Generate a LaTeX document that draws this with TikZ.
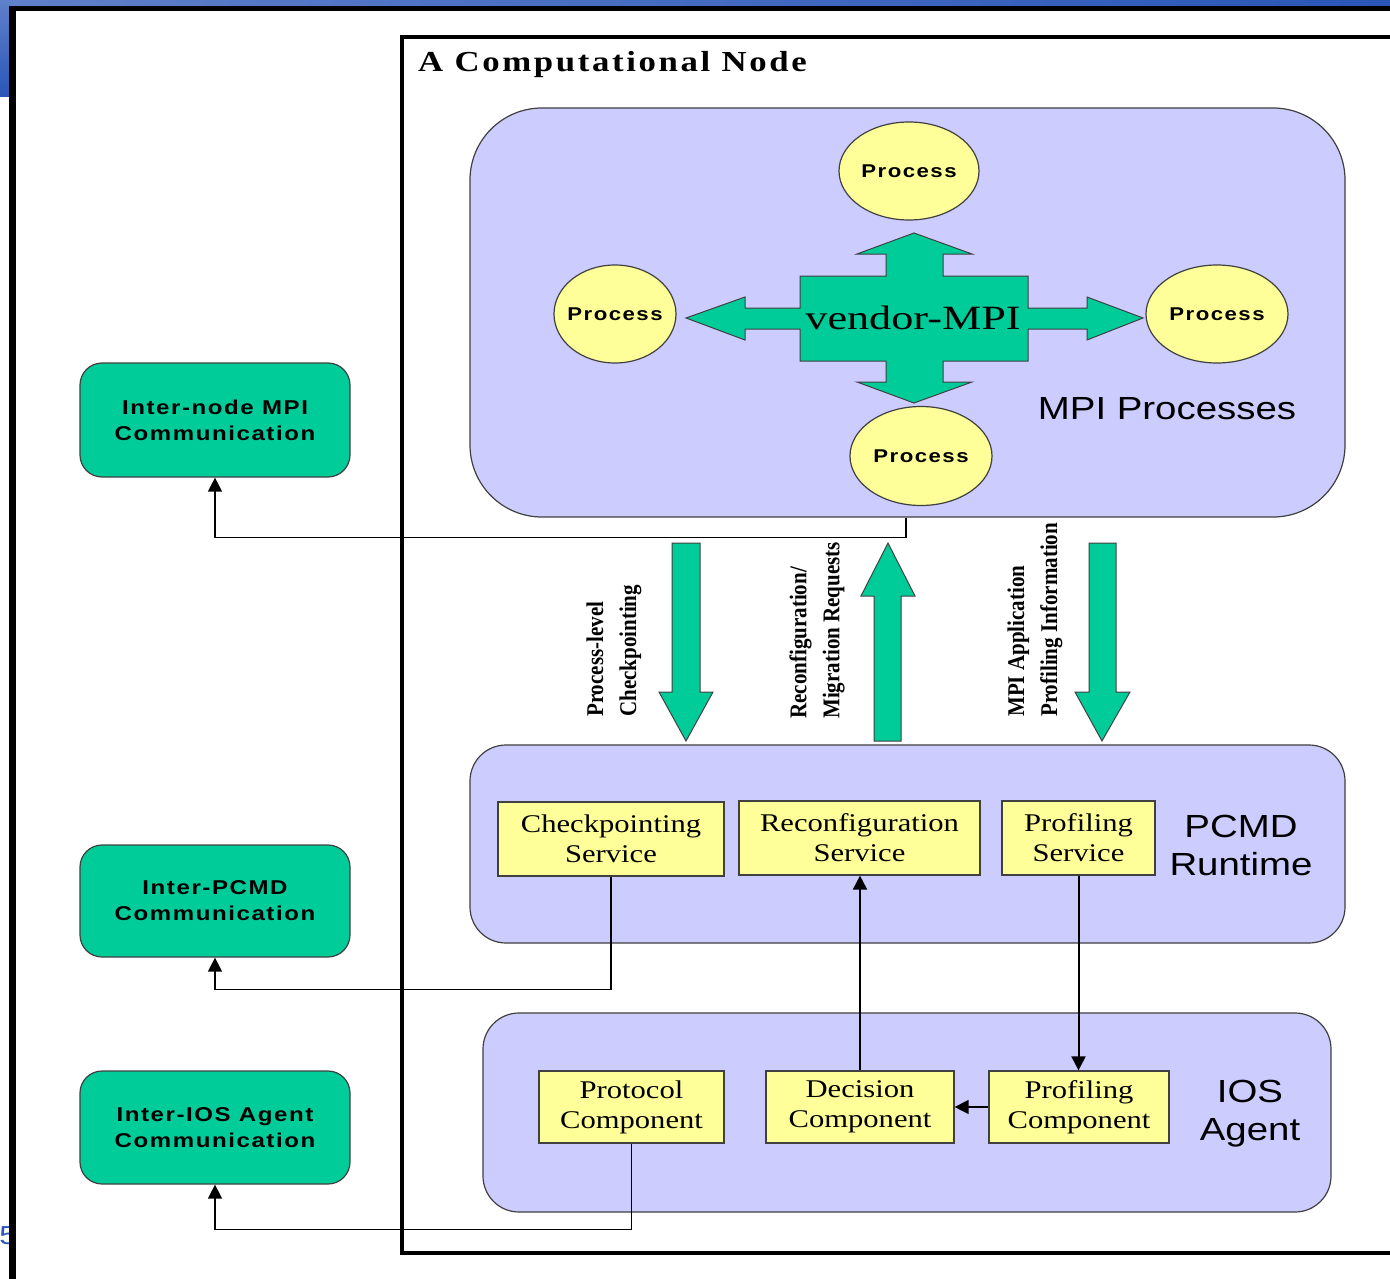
\documentclass[tikz,border=0pt]{standalone}
\usepackage{fontspec}
\setmainfont{Liberation Serif}[FakeStretch=1.2]
\newfontfamily\titlefont{Liberation Serif}[FakeStretch=1.2,LetterSpace=9]
\newfontfamily\vmpifont{Liberation Serif}[FakeStretch=1.3]
\newfontfamily\sidefont{Liberation Serif}[FakeStretch=0.875]
\newfontfamily\labelsans{Liberation Sans}[FakeStretch=1.2]
\newfontfamily\boldsans{Liberation Sans}[FakeStretch=1.2,LetterSpace=8]
\usetikzlibrary{arrows.meta,calc,shapes.geometric}

\definecolor{nodegreen}{HTML}{00CC99}
\definecolor{lav}{HTML}{CCCCFF}
\definecolor{pale}{HTML}{FFFF99}
\definecolor{edgegray}{HTML}{404040}
\definecolor{slideblue}{HTML}{2A56B8}

\tikzset{
  region/.style={draw=edgegray, line width=1.2pt, fill=lav, inner sep=0pt},
  commbox/.style={draw=edgegray, line width=1.2pt, fill=nodegreen, rounded corners=22pt,
    minimum width=270pt, inner sep=0pt, align=center,
    font=\boldsans\bfseries\fontsize{20}{26}\selectfont},
  svcbox/.style={draw=edgegray, line width=1.2pt, fill=pale, inner sep=0pt, align=center,
    font=\fontsize{25.5}{30}\selectfont},
  proc/.style={draw=edgegray, line width=1.2pt, fill=pale, ellipse, inner sep=0pt,
    font=\boldsans\bfseries\fontsize{18.5}{22}\selectfont},
  biglabel/.style={align=center, inner sep=0pt, font=\labelsans\fontsize{32}{38}\selectfont},
  sidelabel/.style={rotate=90, anchor=west, align=left, inner sep=0pt,
    font=\sidefont\bfseries\fontsize{24}{33}\selectfont},
  bigarrow/.style={draw=edgegray, line width=1pt, fill=nodegreen},
  conn/.style={draw=black, line width=1.3pt},
  tip/.style={-{Triangle[length=14pt,width=14pt]}},
}

\begin{document}
\begin{tikzpicture}[x=1pt,y=-1pt]
\useasboundingbox (0,0) rectangle (1390,1279);
\clip (0,0) rectangle (1390,1279);

% slide background, page number and outer frame
\fill[white] (0,0) rectangle (1390,1279);
\shade[left color=slideblue!75!white, right color=slideblue] (0,0) rectangle (1390,6);
\shade[top color=slideblue!75!white, bottom color=slideblue] (0,0) rectangle (9,97);
\node[inner sep=0pt, text=slideblue, font=\labelsans\fontsize{26}{30}\selectfont] (pagenum) at (8,1236) {5};
\fill[black] (9,6) rectangle (1400,1290);
\fill[white] (16,11) rectangle (1400,1290);

% computational node frame
\draw[line width=4.5pt] (402,37) rectangle (1410,1253);
\node[anchor=west, inner sep=0pt, font=\titlefont\bfseries\fontsize{29}{34}\selectfont]
  (title) at (418,65) {A Computational Node};

% layered regions
\node[region, rounded corners=72pt, minimum width=875pt, minimum height=409pt] (mpi) at (907.5,312.5) {};
\node[region, rounded corners=36pt, minimum width=875pt, minimum height=198pt] (pcmd) at (907.5,844) {};
\node[region, rounded corners=36pt, minimum width=848pt, minimum height=199pt] (ios) at (907,1112.5) {};

% vendor-MPI cross with four arrow heads
\filldraw[bigarrow]
  (914,233) -- (972,254) -- (943,254) -- (943,276) -- (1028,276) -- (1028,308)
  -- (1087,308) -- (1087,297) -- (1143,318) -- (1087,340) -- (1087,329) -- (1028,329)
  -- (1028,361) -- (943,361) -- (943,382) -- (972,382) -- (914,403) -- (857,382)
  -- (886,382) -- (886,361) -- (800,361) -- (800,329) -- (745,329) -- (745,340)
  -- (686,318) -- (745,297) -- (745,308) -- (800,308) -- (800,276) -- (886,276)
  -- (886,254) -- (857,254) -- cycle;
\node[inner sep=0pt, font=\vmpifont\fontsize{34}{38}\selectfont] (vmpi) at (913,318) {vendor-MPI};

% processes
\node[proc, minimum width=140pt, minimum height=98pt] (p1) at (909,171) {\makebox[0pt]{Process}};
\node[proc, minimum width=122pt, minimum height=98pt] (p2) at (615,314) {\makebox[0pt]{Process}};
\node[proc, minimum width=142pt, minimum height=98pt] (p3) at (1217,314) {\makebox[0pt]{Process}};
\node[proc, minimum width=142pt, minimum height=99pt] (p4) at (921,456) {\makebox[0pt]{Process}};

\node[biglabel] (mpilabel) at (1167,409) {MPI Processes};

% arrows between MPI processes and the runtime
\filldraw[bigarrow] (672,543) -- (700,543) -- (700,692) -- (713,692) -- (686,741)
  -- (659,692) -- (672,692) -- cycle;
\filldraw[bigarrow] (888,543) -- (915,596) -- (901,596) -- (901,741) -- (874,741)
  -- (874,596) -- (861,596) -- cycle;
\filldraw[bigarrow] (1089,543) -- (1116,543) -- (1116,692) -- (1130,692) -- (1102,741)
  -- (1075,692) -- (1089,692) -- cycle;

\node[sidelabel] (lab1) at (614,717) {Process-level\\Checkpointing};
\node[sidelabel] (lab2) at (817,719) {Reconfiguration/\\Migration Requests};
\node[sidelabel] (lab3) at (1035,717) {MPI Application\\Profiling Information};

% PCMD runtime services
\node[svcbox, minimum width=226pt, minimum height=74pt] (chk) at (611,839) {Checkpointing\\Service};
\node[svcbox, minimum width=241pt, minimum height=74pt] (rec) at (859.5,838) {Reconfiguration\\Service};
\node[svcbox, minimum width=153pt, minimum height=74pt] (prs) at (1078.5,838) {Profiling\\Service};
\node[biglabel] (pcmdlabel) at (1241,845) {PCMD\\Runtime};

% IOS agent components
\node[svcbox, minimum width=185pt, minimum height=72pt] (proto) at (631.5,1107) {Protocol\\Component};
\node[svcbox, minimum width=188pt, minimum height=72pt] (dec) at (860,1107) {Decision\\Component};
\node[svcbox, minimum width=180pt, minimum height=72pt] (prc) at (1079,1107) {Profiling\\Component};
\node[biglabel] (ioslabel) at (1250,1114) {IOS\\Agent};

% communication endpoints
\node[commbox, minimum height=114pt] (c1) at (215,420) {Inter-node MPI\\Communication};
\node[commbox, minimum height=112pt] (c2) at (215,901) {Inter-PCMD\\Communication};
\node[commbox, minimum height=113pt] (c3) at (215,1127.5) {Inter-IOS Agent\\Communication};

% connectors
\draw[conn, tip] ($(mpi.south)+(-1.5,0)$) -- ++(0,20) -| (c1.south);
\draw[conn, tip] (chk.south) -- ++(0,113) -| (c2.south);
\draw[conn, tip] (proto.south) -- ++(0,86) -| (c3.south);
\draw[conn, line width=2pt, tip] (dec.north) -- (dec.north |- rec.south);
\draw[conn, line width=2pt, tip] (prs.south) -- (prs.south |- prc.north);
\draw[conn, tip] (prc.west) -- (dec.east);

\end{tikzpicture}
\end{document}
